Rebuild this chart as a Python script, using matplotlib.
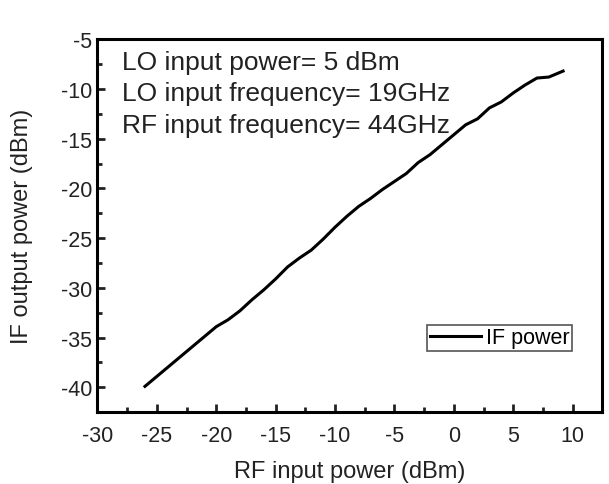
import numpy as np
import matplotlib
matplotlib.use("Agg")
import matplotlib.pyplot as plt
from matplotlib.ticker import MultipleLocator

plt.rcParams['font.family'] = ['Liberation Sans', 'DejaVu Sans']
plt.rcParams['axes.unicode_minus'] = False

# RF input power (dBm) vs IF output power (dBm)
rf_power = [-26, -25, -24, -23, -22, -21, -20, -19, -18, -17, -16, -15, -14, -13,
            -12, -11, -10, -9, -8, -7, -6, -5, -4, -3, -2, -1, 0, 1, 2, 3, 4, 5,
            6, 7, 8, 9.2]
if_power = [-39.9, -38.9, -37.9, -36.9, -35.9, -34.9, -33.9, -33.2, -32.3, -31.2,
            -30.2, -29.1, -27.9, -27.0, -26.2, -25.1, -23.9, -22.8, -21.8, -21.0,
            -20.1, -19.3, -18.5, -17.4, -16.6, -15.6, -14.6, -13.6, -13.0, -11.9,
            -11.3, -10.4, -9.6, -8.9, -8.8, -8.2]

notes = ["LO input power= 5 dBm", "LO input frequency= 19GHz", "RF input frequency= 44GHz"]

fig = plt.figure(figsize=(6.09, 4.85), dpi=100)
ax = fig.add_axes([0.160, 0.148, 0.829, 0.769])

ax.plot(rf_power, if_power, color='black', lw=2.2, label='IF power')

ax.set_xlim(-30, 12.5)
ax.set_ylim(-42.5, -5)
ax.xaxis.set_major_locator(MultipleLocator(5))
ax.xaxis.set_minor_locator(MultipleLocator(2.5))
ax.yaxis.set_major_locator(MultipleLocator(5))
ax.yaxis.set_minor_locator(MultipleLocator(2.5))
ax.tick_params(which='both', direction='in', width=2, labelsize=15.5, colors='#222222')
ax.tick_params(which='major', length=6)
ax.tick_params(which='minor', length=3.5)
ax.tick_params(axis='x', pad=9)
ax.tick_params(axis='y', pad=4)
for s in ax.spines.values():
    s.set_linewidth(2.2)

ax.set_xlabel('RF input power (dBm)', fontsize=17, color='#222222', labelpad=10)
ax.set_ylabel('IF output power (dBm)', fontsize=17, color='#222222', labelpad=20)

ys = [0.938, 0.855, 0.771]
for t, y in zip(notes, ys):
    ax.text(0.048, y, t, transform=ax.transAxes, fontsize=19,
            color='#222222', va='center', ha='left')

leg = ax.legend(loc='lower right', bbox_to_anchor=(0.94, 0.164), fontsize=15.5,
                handlelength=2.4, handletextpad=0.2, borderpad=0.12,
                fancybox=False, framealpha=1, borderaxespad=0)
leg.get_frame().set_edgecolor('#555555')
leg.get_frame().set_linewidth(1.2)

fig.savefig('out.png', dpi=100)
